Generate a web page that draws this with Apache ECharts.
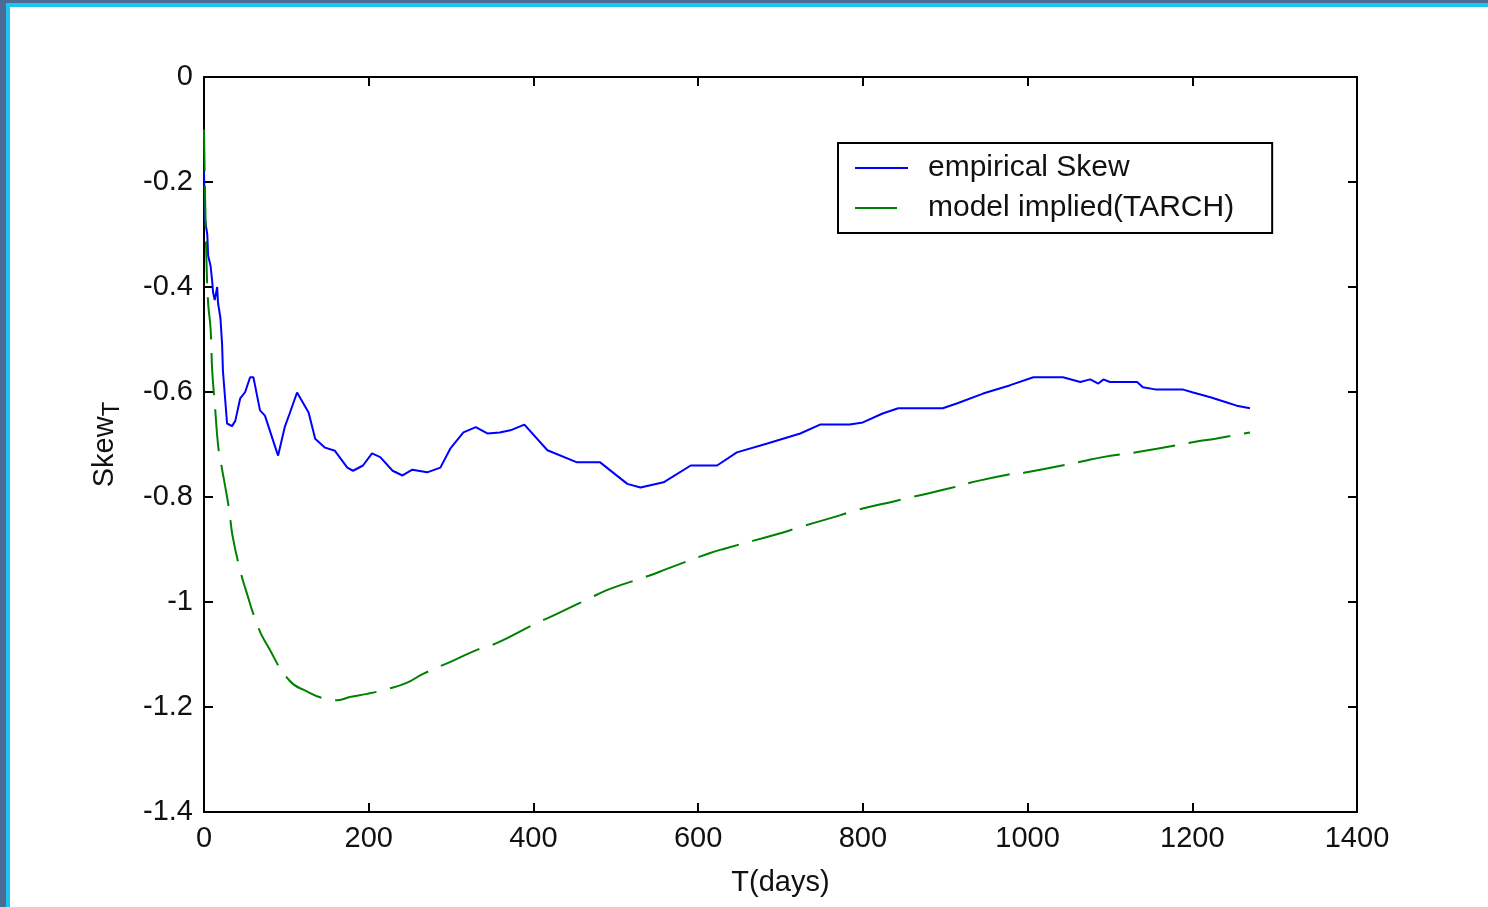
<!DOCTYPE html>
<html>
<head>
<meta charset="utf-8">
<script src="https://cdn.jsdelivr.net/npm/echarts@6/dist/echarts.min.js"></script>
<style>
  html, body { margin: 0; padding: 0; width: 1488px; height: 907px; overflow: hidden; background: #4c6c96; }
  #frame { position: absolute; left: 6px; top: 3px; right: 0; bottom: 0; background: #ffffff;
           border-left: 4px solid #1cc6f0; border-top: 4px solid #1cc6f0; }
  #chart { position: absolute; left: 0; top: 0; width: 1488px; height: 907px; }
</style>
</head>
<body>
<div id="frame"></div>
<div id="chart"></div>
<script>
// ---- data ----
const xTicks = [0, 200, 400, 600, 800, 1000, 1200, 1400];
const yTicks = [0, -0.2, -0.4, -0.6, -0.8, -1, -1.2, -1.4];

const empiricalT = [0, 1, 4, 5, 8, 10, 11, 13, 16, 17, 20, 22, 23, 28, 34, 38, 44, 50, 56, 60, 68, 74, 89, 90,
  98, 104, 113, 127, 135, 147, 159, 174, 181, 193, 204, 214, 229, 241, 253, 271, 287, 299, 315, 330, 344,
  359, 372, 389, 417, 453, 481, 514, 530, 558, 591, 623, 647, 684, 724, 748, 784, 800, 824, 843, 897, 914,
  946, 979, 1007, 1043, 1064, 1076, 1086, 1092, 1100, 1133, 1140, 1155, 1188, 1201, 1222, 1242, 1254, 1270];
const empiricalSkew = [-0.18, -0.27, -0.30, -0.34, -0.36, -0.39, -0.41, -0.425, -0.40, -0.43, -0.46, -0.51, -0.56,
  -0.66, -0.665, -0.655, -0.612, -0.60, -0.572, -0.572, -0.635, -0.645, -0.717, -0.721,
  -0.667, -0.641, -0.601, -0.639, -0.689, -0.706, -0.712, -0.744, -0.75, -0.74, -0.717, -0.724, -0.75, -0.759,
  -0.748, -0.753, -0.744, -0.708, -0.677, -0.667, -0.679, -0.677, -0.673, -0.662, -0.711, -0.734, -0.734,
  -0.775, -0.782, -0.772, -0.74, -0.74, -0.715, -0.698, -0.679, -0.662, -0.662, -0.658, -0.641, -0.631,
  -0.631, -0.622, -0.603, -0.587, -0.572, -0.572, -0.581, -0.576, -0.584, -0.576, -0.581, -0.581, -0.591,
  -0.595, -0.595, -0.601, -0.61, -0.62, -0.626, -0.631];

const modelT = [0, 1, 2, 3, 5, 8, 10, 13, 17, 20, 28, 31, 35, 44, 50, 66, 76, 104, 126, 144, 162, 177, 198, 222,
  246, 266, 302, 335, 356, 404, 424, 472, 493, 540, 562, 612, 633, 702, 722, 772, 790, 841, 860, 909, 930,
  977, 999, 1067, 1088, 1139, 1157, 1207, 1228, 1270];
const modelSkew = [-0.10, -0.20, -0.28, -0.35, -0.43, -0.48, -0.56, -0.62, -0.70, -0.73, -0.80, -0.83, -0.877,
  -0.94, -0.973, -1.049, -1.08, -1.15, -1.171, -1.183, -1.187, -1.181, -1.175, -1.166, -1.154, -1.137, -1.112,
  -1.089, -1.078, -1.04, -1.026, -0.99, -0.975, -0.95, -0.937, -0.908, -0.898, -0.868, -0.858, -0.835, -0.826,
  -0.807, -0.80, -0.782, -0.773, -0.757, -0.753, -0.732, -0.725, -0.713, -0.708, -0.694, -0.689, -0.677];

const seriesNames = ['empirical Skew', 'model implied(TARCH)'];
// ------------------------------------------------

const zip = (xs, ys) => xs.map((x, i) => [x, ys[i]]);
const FONT = 'Liberation Sans, Arial, sans-serif';
const labelStyle = { fontFamily: FONT, fontSize: 29, color: '#111' };
const axisLineStyle = { onZero: false, lineStyle: { color: '#000', width: 2 } };
const tickStyle = { inside: true, length: 9, lineStyle: { color: '#000', width: 2 } };
const fmtX = v => String(v);
const fmtY = v => String(+(+v).toFixed(1));

const chart = echarts.init(document.getElementById('chart'), null, { renderer: 'canvas' });
chart.setOption({
  backgroundColor: 'transparent',
  animation: false,
  grid: { left: 204, top: 77, width: 1153, height: 735, containLabel: false },
  legend: {
    orient: 'vertical',
    left: 838, top: 143,
    padding: [10, 38, 10, 16],
    itemWidth: 53, itemHeight: 28, itemGap: 10,
    borderColor: '#000', borderWidth: 2,
    backgroundColor: '#fff',
    itemStyle: { color: 'rgba(0,0,0,0)', borderWidth: 0, opacity: 0 },
    textStyle: { fontFamily: FONT, fontSize: 30, color: '#111', padding: [0, 0, 0, 15] },
    data: seriesNames
  },
  xAxis: [
    {
      type: 'value', position: 'bottom', min: xTicks[0], max: xTicks[xTicks.length - 1], interval: 200,
      name: 'T(days)', nameLocation: 'middle', nameGap: 56,
      nameTextStyle: { fontFamily: FONT, fontSize: 29, color: '#111' },
      axisLine: axisLineStyle,
      axisTick: tickStyle,
      axisLabel: Object.assign({ margin: 12, formatter: fmtX }, labelStyle),
      splitLine: { show: false }
    },
    {
      type: 'value', position: 'top', min: xTicks[0], max: xTicks[xTicks.length - 1], interval: 200,
      axisLine: axisLineStyle,
      axisTick: tickStyle,
      axisLabel: { show: false },
      splitLine: { show: false }
    }
  ],
  yAxis: [
    {
      type: 'value', position: 'left', min: yTicks[yTicks.length - 1], max: yTicks[0], interval: 0.2,
      name: '{a|Skew}{b|T}', nameLocation: 'middle', nameGap: 80, nameRotate: 90,
      nameTextStyle: {
        fontFamily: FONT, color: '#111',
        rich: {
          a: { fontFamily: FONT, fontSize: 29, color: '#111' },
          b: { fontFamily: FONT, fontSize: 24, color: '#111', padding: [14, 0, 0, 0] }
        }
      },
      axisLine: axisLineStyle,
      axisTick: tickStyle,
      axisLabel: Object.assign({ margin: 11, formatter: fmtY }, labelStyle),
      splitLine: { show: false }
    },
    {
      type: 'value', position: 'right', min: yTicks[yTicks.length - 1], max: yTicks[0], interval: 0.2,
      axisLine: axisLineStyle,
      axisTick: tickStyle,
      axisLabel: { show: false },
      splitLine: { show: false }
    }
  ],
  series: [
    {
      name: seriesNames[0], type: 'line', xAxisIndex: 0, yAxisIndex: 0,
      data: zip(empiricalT, empiricalSkew),
      symbol: 'none', showSymbol: false, smooth: false,
      lineStyle: { color: '#0000ff', width: 2 },
      itemStyle: { color: '#0000ff' }
    },
    {
      name: seriesNames[1], type: 'line', xAxisIndex: 0, yAxisIndex: 0,
      data: zip(modelT, modelSkew),
      symbol: 'none', showSymbol: false, smooth: true,
      lineStyle: { color: '#008000', width: 2, type: [42, 14] },
      itemStyle: { color: '#008000' }
    }
  ]
});
</script>
</body>
</html>
